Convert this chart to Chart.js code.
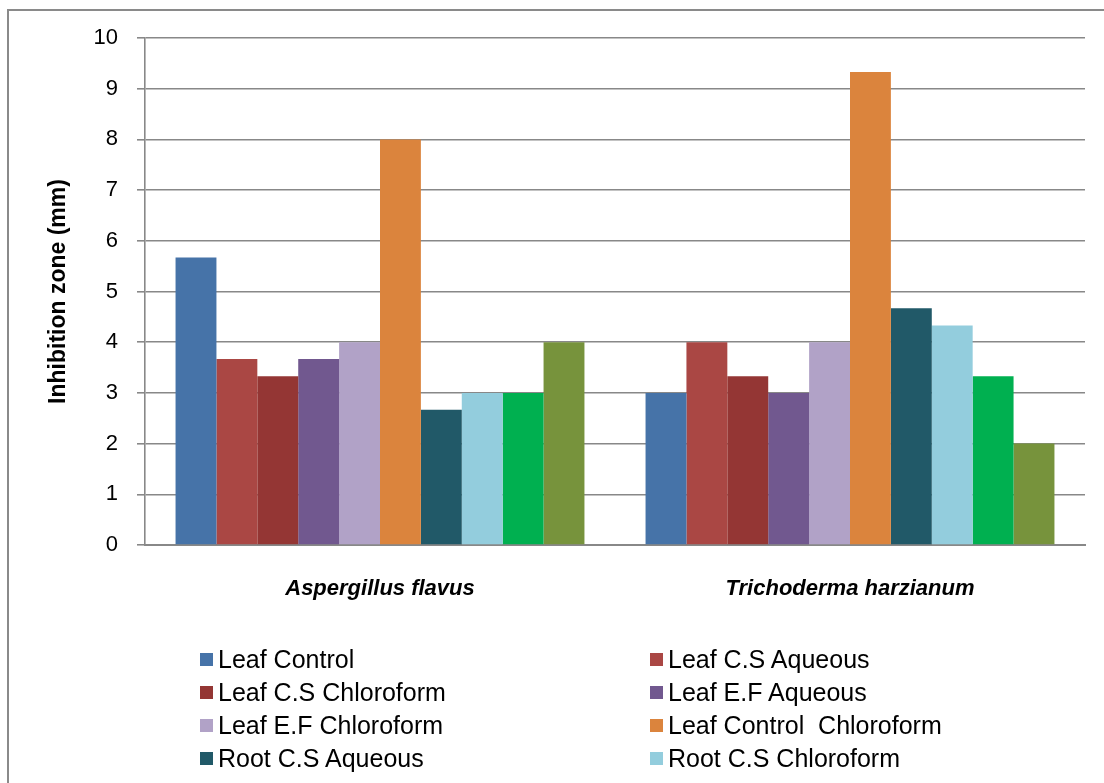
<!DOCTYPE html>
<html>
<head>
<meta charset="utf-8">
<script src="https://cdn.jsdelivr.net/npm/chart.js@4/dist/chart.umd.min.js"></script>
<style>
  html, body { margin: 0; padding: 0; width: 1104px; height: 783px; overflow: hidden; background: #fff; }
  #frame { position: absolute; left: 7px; top: 9px; width: 1130px; height: 900px; border: 2px solid #8a8a8a; box-sizing: border-box; }
  #wrap { position: absolute; left: 0; top: 0; width: 1104px; height: 783px; }
  #legend { position: absolute; left: 200px; top: 643px; width: 800px; height: 132px; overflow: hidden; display: grid; grid-template-columns: 450px 350px; font-family: "Liberation Sans", Arial, sans-serif; font-size: 25px; color: #000; }
  .item { display: flex; align-items: center; height: 33px; white-space: pre; }
  .sw { width: 13px; height: 13px; margin-right: 5px; flex: none; }
</style>
</head>
<body>
<div id="frame"></div>
<div id="wrap"><canvas id="c" width="1104" height="783"></canvas></div>
<div id="legend"></div>
<script>
// Fungal strains tested
const categories = ['Aspergillus flavus', 'Trichoderma harzianum'];

// Extract / solvent treatments
const seriesNames = [
  'Leaf Control', 'Leaf C.S Aqueous', 'Leaf C.S Chloroform', 'Leaf E.F Aqueous',
  'Leaf E.F Chloroform', 'Leaf Control  Chloroform', 'Root C.S Aqueous',
  'Root C.S Chloroform', 'Root E.F Aqueous', 'Root E.F Chloroform'
];

// Inhibition zone (mm), one array per treatment: [A. flavus, T. harzianum]
const leafControl          = [5.67, 3.00];
const leafCSAqueous        = [3.67, 4.00];
const leafCSChloroform     = [3.33, 3.33];
const leafEFAqueous        = [3.67, 3.00];
const leafEFChloroform     = [4.00, 4.00];
const leafControlChloro    = [8.00, 9.33];
const rootCSAqueous        = [2.67, 4.67];
const rootCSChloroform     = [3.00, 4.33];
const rootEFAqueous        = [3.00, 3.33];
const rootEFChloroform     = [4.00, 2.00];

const seriesValues = [
  leafControl, leafCSAqueous, leafCSChloroform, leafEFAqueous, leafEFChloroform,
  leafControlChloro, rootCSAqueous, rootCSChloroform, rootEFAqueous, rootEFChloroform
];

const yTicks = [0, 1, 2, 3, 4, 5, 6, 7, 8, 9, 10];

const colors = [
  '#4673A8', '#AA4744', '#943634', '#71588F', '#B1A2C7',
  '#DB843D', '#215968', '#93CDDD', '#00B050', '#77933C'
];

const FONT = '"Liberation Sans", Arial, sans-serif';
const GRID = '#888888';

const chart = new Chart(document.getElementById('c'), {
  type: 'bar',
  data: {
    labels: categories,
    datasets: seriesNames.map((name, i) => ({
      label: name,
      data: seriesValues[i],
      backgroundColor: colors[i],
      borderWidth: 0
    }))
  },
  options: {
    responsive: false,
    animation: false,
    events: [],
    layout: { padding: { left: 0, right: 19, top: 38, bottom: 178 } },
    plugins: { legend: { display: false }, tooltip: { enabled: false } },
    datasets: { bar: { barPercentage: 1, categoryPercentage: 0.87 } },
    scales: {
      x: {
        grid: { display: false, drawTicks: false },
        border: { display: true, color: GRID, width: 2 },
        ticks: { color: '#000', padding: 31, font: { family: FONT, size: 22, style: 'italic', weight: 'bold' } },
        afterFit: s => { s.height = 60; }
      },
      y: {
        min: 0, max: 10,
        afterBuildTicks: s => { s.ticks = yTicks.map(v => ({ value: v })); },
        grid: { color: GRID, lineWidth: 1.6, tickLength: 8 },
        border: { display: true, color: GRID, width: 1.6 },
        ticks: { color: '#000', padding: 19, font: { family: FONT, size: 22 } },
        title: {
          display: true, text: 'Inhibition zone (mm)', color: '#000',
          padding: { top: 45 }, font: { family: FONT, size: 23, weight: 'bold' }
        },
        afterFit: s => { s.width = 145; }
      }
    }
  }
});

// Two-column legend built from the chart's datasets
const legend = document.getElementById('legend');
chart.data.datasets.forEach(ds => {
  const item = document.createElement('div');
  item.className = 'item';
  const sw = document.createElement('span');
  sw.className = 'sw';
  sw.style.background = ds.backgroundColor;
  const tx = document.createElement('span');
  tx.textContent = ds.label;
  item.appendChild(sw);
  item.appendChild(tx);
  legend.appendChild(item);
});
</script>
</body>
</html>
